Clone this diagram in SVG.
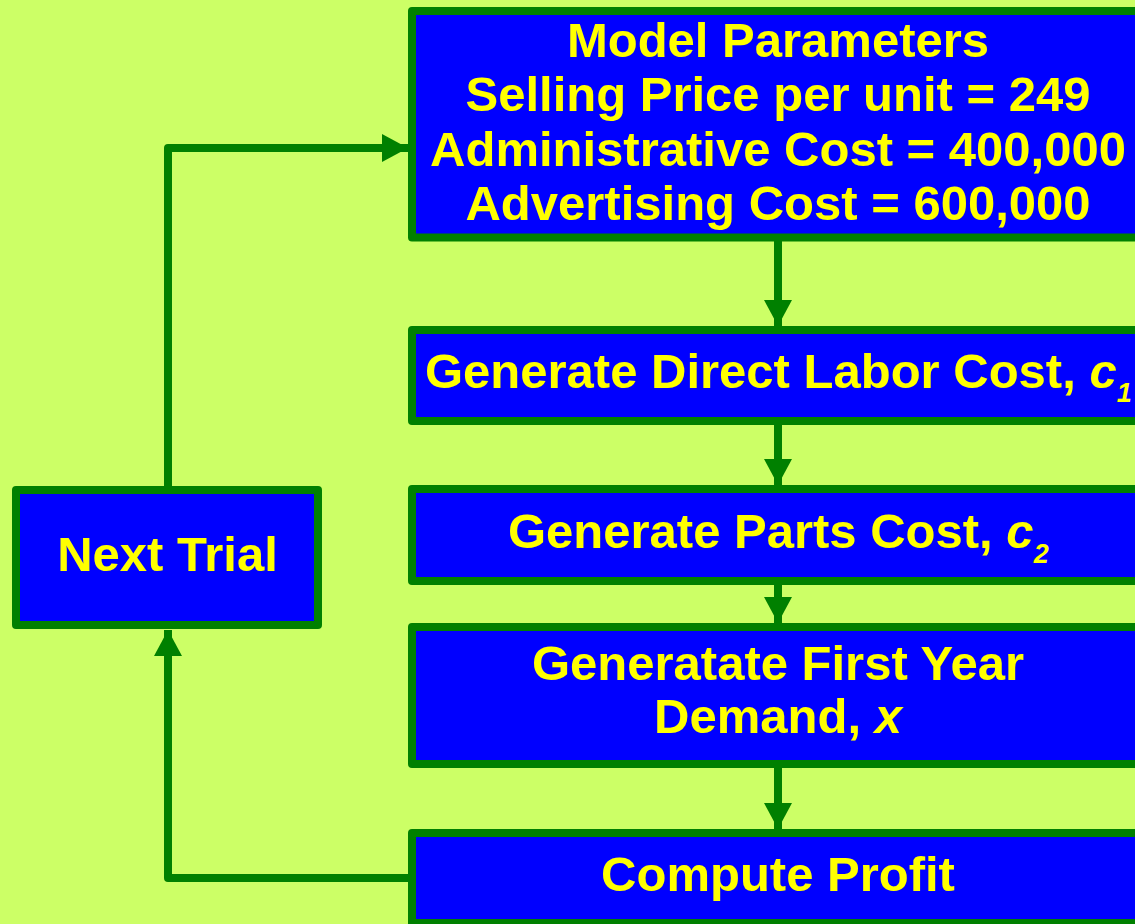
<svg xmlns="http://www.w3.org/2000/svg" width="1135" height="924" viewBox="0 0 1135 924">
<style>
.box{fill:#0000FF;stroke:#008000;stroke-width:8;stroke-linejoin:round}
.t{font-family:"Liberation Sans",Arial,sans-serif;font-weight:bold;font-size:49px;fill:#FFFF00}
.m{text-anchor:middle}
.conn{fill:none;stroke:#008000;stroke-width:8;stroke-linejoin:round}
.sub{font-size:27px;font-style:italic}
</style>
<defs>
<marker id="ah" markerUnits="userSpaceOnUse" viewBox="0 0 26 28" refX="26" refY="14" markerWidth="26" markerHeight="28" orient="auto">
<path d="M0,0 L26,14 L0,28 Z" fill="#008000"/>
</marker>
</defs>
<rect width="1135" height="924" fill="#CCFF66"/>
<g id="connectors">
<line class="conn" x1="778" y1="241" x2="778" y2="326" marker-end="url(#ah)"/>
<line class="conn" x1="778" y1="425" x2="778" y2="485" marker-end="url(#ah)"/>
<line class="conn" x1="778" y1="585" x2="778" y2="623" marker-end="url(#ah)"/>
<line class="conn" x1="778" y1="768" x2="778" y2="829" marker-end="url(#ah)"/>
<path class="conn" d="M408,878 L168,878 L168,630" marker-end="url(#ah)"/>
<path class="conn" d="M168,486 L168,148 L408,148" marker-end="url(#ah)"/>
</g>
<g id="model-parameters">
<rect class="box" x="412" y="11" width="732" height="226.5"/>
<text class="t m" x="778" y="57">Model Parameters</text>
<text class="t m" x="778" y="111">Selling Price per unit = 249</text>
<text class="t m" x="778" y="166">Administrative Cost = 400,000</text>
<text class="t m" x="778" y="220">Advertising Cost = 600,000</text>
</g>
<g id="direct-labor">
<rect class="box" x="412" y="330" width="732" height="91"/>
<text class="t" x="425" y="388">Generate Direct Labor Cost, <tspan font-style="italic">c</tspan><tspan class="sub" dy="14">1</tspan></text>
</g>
<g id="parts-cost">
<rect class="box" x="412" y="489" width="732" height="92"/>
<text class="t" x="508" y="548">Generate Parts Cost, <tspan font-style="italic">c</tspan><tspan class="sub" dy="15">2</tspan></text>
</g>
<g id="demand">
<rect class="box" x="412" y="627" width="732" height="137"/>
<text class="t m" x="778" y="680">Generatate First Year</text>
<text class="t m" x="778" y="733">Demand, <tspan font-style="italic">x</tspan></text>
</g>
<g id="compute-profit">
<rect class="box" x="412" y="833" width="732" height="90"/>
<text class="t m" x="778" y="891">Compute Profit</text>
</g>
<g id="next-trial">
<rect class="box" x="16" y="490" width="302" height="135"/>
<text class="t m" x="167.5" y="571" font-size="48">Next Trial</text>
</g>
</svg>
